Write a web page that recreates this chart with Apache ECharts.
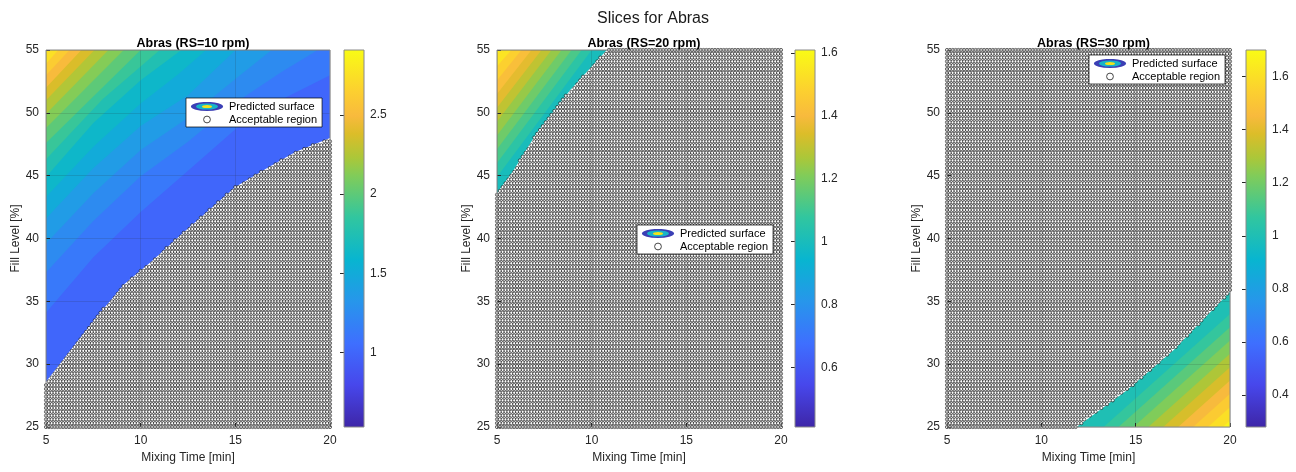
<!DOCTYPE html>
<html>
<head>
<meta charset="utf-8">
<title>Slices for Abras</title>
<script src="https://cdn.jsdelivr.net/npm/echarts@6/dist/echarts.min.js"></script>
<style>
html,body{margin:0;padding:0;background:#fff;}
#main{width:1296px;height:472px;}
</style>
</head>
<body>
<div id="main"></div>
<script>
// model sampling grid: mixing time x fill level
var timeRange = [5, 20];
var fillRange = [25, 55];
var gridCount = 100;

var panelTitles = ['Abras (RS=10 rpm)', 'Abras (RS=20 rpm)', 'Abras (RS=30 rpm)'];
var cbarLimits = [[0.53, 2.91], [0.41, 1.61], [0.28, 1.70]];
var cbarSteps = [0.5, 0.2, 0.2];

// edge of the acceptable region [time, fill]
var edge10 = [[5, 28.6], [6.5, 31.5], [7.75, 33.9], [9.16, 36.4], [10.6, 38.2], [12.35, 40.6],
              [13.95, 42.7], [15, 44.1], [16.8, 45.7], [18.2, 46.9], [20, 48.0]];
var edge20 = [[5, 43.6], [5.86, 45.4], [7.1, 48.4], [8.86, 51.8], [10.8, 55]];
var edge30 = [[11.87, 25], [14.52, 27.9], [17, 31.1], [20, 35.76]];

// contour levels of the predicted surface (first level = edge band)
var levels10 = [1.0, 1.125, 1.25, 1.375, 1.5, 1.625, 1.75, 1.875, 2.0, 2.125, 2.25, 2.375, 2.5, 2.625, 2.75, 2.875];
var contours10 = [
    [[5, 34.1], [7.5, 38.5], [10, 42.1], [12.5, 45.4], [15, 48.7], [17.5, 51.1], [20, 53.0]],
    [[5, 37.3], [7.5, 41.4], [10, 44.95], [12.5, 47.7], [15, 50.8], [17.5, 53.3], [19.36, 55]],
    [[5, 39.6], [7.5, 43.6], [10, 47.05], [12.5, 49.6], [15, 52.7], [16.92, 55]],
    [[5, 41.6], [7.5, 45.6], [10, 48.95], [12.5, 51.4], [15.01, 55]],
    [[5, 43.3], [7.5, 47.3], [10, 50.75], [12, 53.1], [13.46, 55]],
    [[5, 44.9], [7.5, 49.2], [10, 52.6], [12.15, 55]],
    [[5, 46.3], [8, 51.1], [11.01, 55]],
    [[5, 47.6], [10.0, 55]],
    [[5, 48.8], [9.11, 55]],
    [[5, 49.9], [8.30, 55]],
    [[5, 51.0], [7.56, 55]],
    [[5, 52.0], [6.87, 55]],
    [[5, 53.0], [6.24, 55]],
    [[5, 53.9], [5.65, 55]],
    [[5, 54.8], [5.11, 55]]
];
var levels20 = [1.0, 1.06, 1.12, 1.18, 1.24, 1.30, 1.36, 1.42, 1.48, 1.54, 1.60];
var contours20 = [
    [[5, 44.9], [10.0, 55]],
    [[5, 46.0], [9.47, 55]],
    [[5, 47.1], [8.94, 55]],
    [[5, 48.2], [8.41, 55]],
    [[5, 49.3], [7.88, 55]],
    [[5, 50.4], [7.35, 55]],
    [[5, 51.5], [6.82, 55]],
    [[5, 52.6], [6.29, 55]],
    [[5, 53.7], [5.76, 55]],
    [[5, 54.8], [5.23, 55]]
];
var levels30 = [1.0, 1.075, 1.15, 1.225, 1.30, 1.375, 1.45, 1.525, 1.60, 1.675];
var contours30 = [
    [[13.3, 25], [20, 34.0]],
    [[14.09, 25], [20, 32.94]],
    [[14.88, 25], [20, 31.88]],
    [[15.67, 25], [20, 30.82]],
    [[16.46, 25], [20, 29.76]],
    [[17.25, 25], [20, 28.7]],
    [[18.04, 25], [20, 27.64]],
    [[18.83, 25], [20, 26.58]],
    [[19.62, 25], [20, 25.52]]
];

var FONT = '"Liberation Sans", Arial, Helvetica, sans-serif';
var TXT = '#262626';

// parula colormap
var parulaStops = [[0, '#3e26a8'], [0.111, '#4747eb'], [0.222, '#3e6fff'], [0.333, '#2796eb'],
    [0.444, '#08b5d0'], [0.556, '#31c69f'], [0.667, '#81cc59'], [0.714, '#abc739'],
    [0.778, '#dcbd29'], [0.825, '#f8ba3d'], [0.889, '#fccf30'], [1, '#f9fb15']];

function hexRgb(h) {
    return [parseInt(h.substr(1, 2), 16), parseInt(h.substr(3, 2), 16), parseInt(h.substr(5, 2), 16)];
}
function parula(p) {
    p = Math.max(0, Math.min(1, p));
    for (var i = 0; i < parulaStops.length - 1; i++) {
        var a = parulaStops[i], b = parulaStops[i + 1];
        if (p <= b[0]) {
            var f = (p - a[0]) / (b[0] - a[0]);
            var ca = hexRgb(a[1]), cb = hexRgb(b[1]);
            return 'rgb(' + [0, 1, 2].map(function (j) { return Math.round(ca[j] + (cb[j] - ca[j]) * f); }).join(',') + ')';
        }
    }
    return parulaStops[parulaStops.length - 1][1];
}

var panels = [
    {edge: edge10, levels: levels10, contours: contours10, side: 'below'},
    {edge: edge20, levels: levels20, contours: contours20, side: 'below'},
    {edge: edge30, levels: levels30, contours: contours30, side: 'above'}
];

var plotLeft = [46, 497, 947];
var plotWidth = [284, 284, 283];
var cbarLeft = [344, 795, 1246];
var legendPos = [[186, 98], [637, 225], [1089, 55]];
var TOP = 50, HEIGHT = 377;

// edge height at time t; outside the edge's span the whole column is acceptable
function edgeAt(edge, t, side) {
    if (t < edge[0][0] || t > edge[edge.length - 1][0]) return side === 'below' ? Infinity : -Infinity;
    for (var i = 0; i < edge.length - 1; i++) {
        var a = edge[i], b = edge[i + 1];
        if (t >= a[0] && t <= b[0]) return a[1] + (b[1] - a[1]) * (t - a[0]) / (b[0] - a[0]);
    }
    return Infinity;
}

function acceptablePoints(panel) {
    var pts = [];
    for (var i = 0; i < gridCount; i++) {
        var t = timeRange[0] + (timeRange[1] - timeRange[0]) * i / (gridCount - 1);
        var e = edgeAt(panel.edge, t, panel.side);
        for (var j = 0; j < gridCount; j++) {
            var f = fillRange[0] + (fillRange[1] - fillRange[0]) * j / (gridCount - 1);
            if (panel.side === 'below' ? f <= e : f >= e) pts.push([t, f]);
        }
    }
    return pts;
}

var svgIcon = function (s) { return 'image://data:image/svg+xml;charset=utf-8,' + encodeURIComponent(s); };
var surfIcon = svgIcon('<svg xmlns="http://www.w3.org/2000/svg" width="34" height="10" viewBox="0 0 34 10">' +
    '<ellipse cx="17" cy="5" rx="16" ry="4.6" fill="#3b3fb5"/>' +
    '<ellipse cx="17" cy="5" rx="11" ry="3.1" fill="#18b4c8"/>' +
    '<ellipse cx="17" cy="5" rx="5" ry="1.6" fill="#f2e21b"/></svg>');
var ptIcon = svgIcon('<svg xmlns="http://www.w3.org/2000/svg" width="34" height="10" viewBox="0 0 34 10">' +
    '<circle cx="17" cy="5" r="3.4" fill="#fff" stroke="#000" stroke-width="0.9"/></svg>');

var grids = [], xAxes = [], yAxes = [], series = [], titles = [], legends = [];

titles.push({text: 'Slices for Abras', left: 648, top: 6, textAlign: 'center',
    textStyle: {fontSize: 16, fontWeight: 'normal', color: '#1a1a1a', fontFamily: FONT}});

panels.forEach(function (panel, k) {
    grids.push({left: plotLeft[k], top: TOP, width: plotWidth[k], height: HEIGHT,
        show: true, backgroundColor: 'transparent', borderColor: '#8a8a8a', borderWidth: 1, z: 10});
    xAxes.push({gridIndex: k, type: 'value', min: timeRange[0], max: timeRange[1], interval: 5,
        name: 'Mixing Time [min]', nameLocation: 'middle', nameGap: 22,
        nameTextStyle: {fontSize: 12, color: TXT, fontFamily: FONT},
        axisLine: {show: false}, axisTick: {inside: true, length: 4, lineStyle: {color: TXT}},
        axisLabel: {fontSize: 12, color: TXT, margin: 8, fontFamily: FONT},
        splitLine: {show: true, lineStyle: {color: 'rgba(38,38,38,0.15)', width: 1}}, z: 6});
    yAxes.push({gridIndex: k, type: 'value', min: fillRange[0], max: fillRange[1], interval: 5,
        name: 'Fill Level [%]', nameLocation: 'middle', nameGap: 21,
        nameTextStyle: {fontSize: 12, color: TXT, fontFamily: FONT},
        axisLine: {show: false}, axisTick: {inside: true, length: 4, lineStyle: {color: TXT}},
        axisLabel: {fontSize: 12, color: TXT, margin: 7, fontFamily: FONT},
        splitLine: {show: true, lineStyle: {color: 'rgba(38,38,38,0.15)', width: 1}}, z: 6});

    titles.push({text: panelTitles[k], left: plotLeft[k] + plotWidth[k] / 2, top: 32, textAlign: 'center',
        textStyle: {fontSize: 12.5, fontWeight: 'bold', color: '#000', fontFamily: FONT}});

    var lim = cbarLimits[k];
    var lines = [panel.edge].concat(panel.contours);
    lines.forEach(function (line, i) {
        series.push({
            name: 'Predicted surface', type: 'line', xAxisIndex: k, yAxisIndex: k,
            data: line, symbol: 'none', silent: true, clip: true, smooth: false,
            lineStyle: {width: 0, opacity: 0},
            areaStyle: {color: parula((panel.levels[i] - lim[0]) / (lim[1] - lim[0])), opacity: 1,
                origin: panel.side === 'below' ? 'end' : 'start'},
            z: 1 + i * 0.01
        });
    });
    series.push({
        name: 'Acceptable region', type: 'scatter', xAxisIndex: k, yAxisIndex: k,
        data: acceptablePoints(panel), symbol: 'circle', symbolSize: 3.2,
        itemStyle: {color: '#fff', borderColor: '#000', borderWidth: 0.75},
        silent: true, progressive: 0, large: false, z: 3
    });

    legends.push({orient: 'vertical', left: legendPos[k][0], top: legendPos[k][1], selectedMode: false,
        backgroundColor: '#fff', borderColor: '#000', borderWidth: 0.7, borderRadius: 0,
        padding: [3, 5, 2, 4], itemGap: 2, itemWidth: 34, itemHeight: 10,
        textStyle: {fontSize: 11, color: '#000', fontFamily: FONT},
        data: [{name: 'Predicted surface', icon: surfIcon}, {name: 'Acceptable region', icon: ptIcon}],
        z: 20});
});

// colorbars
panels.forEach(function (panel, k) {
    var g = 3 + k;
    var lim = cbarLimits[k];
    grids.push({left: cbarLeft[k], top: TOP, width: 20, height: HEIGHT,
        show: true, backgroundColor: 'transparent', borderColor: '#8a8a8a', borderWidth: 1, z: 10});
    xAxes.push({gridIndex: g, type: 'value', min: 0, max: 1, show: false});
    yAxes.push({gridIndex: g, type: 'value', position: 'right', min: lim[0], max: lim[1],
        minInterval: cbarSteps[k], maxInterval: cbarSteps[k], splitNumber: k === 0 ? 5 : 6,
        axisLine: {show: false}, axisTick: {inside: true, length: 4, lineStyle: {color: TXT}},
        axisLabel: {fontSize: 12, color: TXT, margin: 6, fontFamily: FONT, showMinLabel: false, showMaxLabel: false},
        splitLine: {show: false}, z: 6});
    var stops = parulaStops.map(function (s) { return {offset: s[0], color: s[1]}; });
    series.push({
        type: 'custom', xAxisIndex: g, yAxisIndex: g, silent: true,
        data: [[0, lim[0], 1, lim[1]]], encode: {x: [0, 2], y: [1, 3]},
        renderItem: function (params, api) {
            var a = api.coord([api.value(0), api.value(3)]);
            var b = api.coord([api.value(2), api.value(1)]);
            return {type: 'rect', shape: {x: a[0], y: a[1], width: b[0] - a[0], height: b[1] - a[1]},
                style: {fill: {type: 'linear', x: 0, y: 1, x2: 0, y2: 0, colorStops: stops}}};
        }
    });
});

var chart = echarts.init(document.getElementById('main'), null, {renderer: 'canvas'});
chart.setOption({
    animation: false,
    backgroundColor: '#fff',
    textStyle: {fontFamily: FONT},
    title: titles,
    legend: legends,
    grid: grids,
    xAxis: xAxes,
    yAxis: yAxes,
    series: series
});
</script>
</body>
</html>
